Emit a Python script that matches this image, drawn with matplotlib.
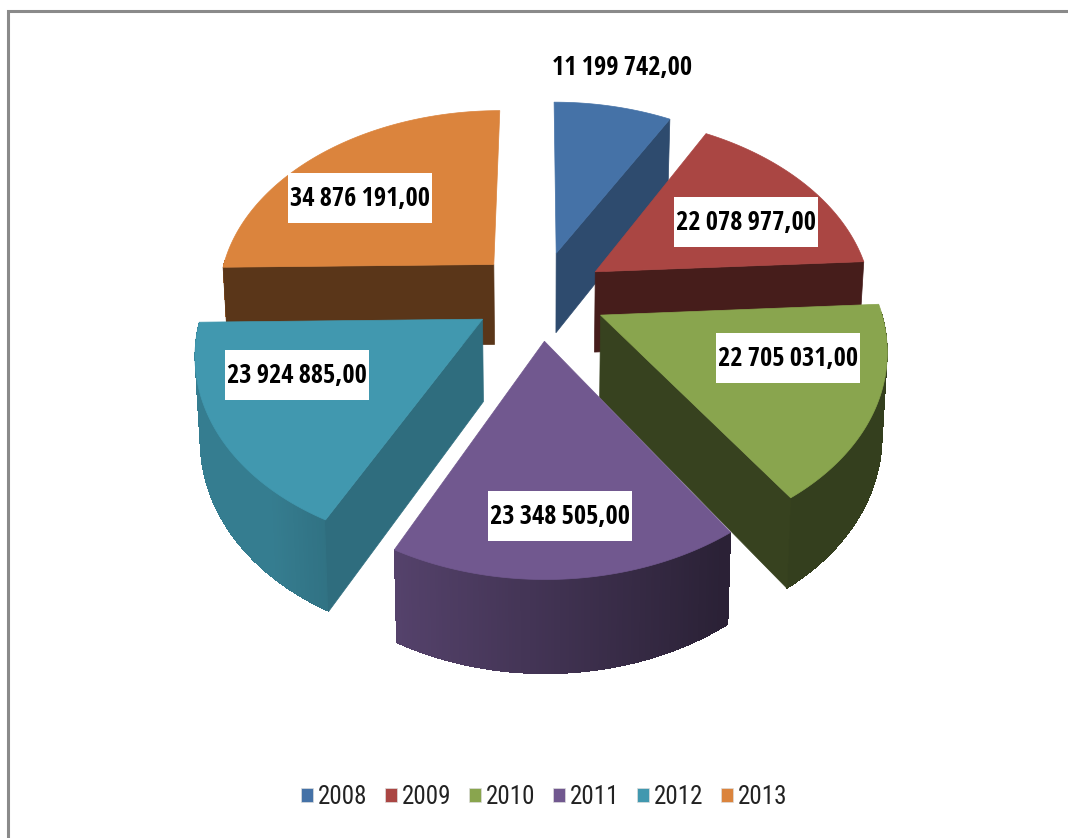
#!/usr/bin/env python3
"""Exploded 3D pie of yearly totals, 2008-2013."""

import numpy as np
import matplotlib
matplotlib.use("Agg")
import matplotlib.pyplot as plt
from matplotlib.collections import PolyCollection
from matplotlib.patches import Polygon, Rectangle, Patch

years = ["2008", "2009", "2010", "2011", "2012", "2013"]
values = [11199742, 22078977, 22705031, 23348505, 23924885, 34876191]

colors = ["#4572A7", "#AA4643", "#89A54E", "#71588F", "#4198AF", "#DB843D"]
# how dark the cut faces are, relative to the top colour
face_shade = [0.66, 0.41, 0.40, 0.55, 0.72, 0.41]
# back to front
draw_order = [0, 5, 1, 4, 2, 3]
# label box centres, pixels
label_x = [622, 746, 788, 560, 297, 360]
label_y = [68, 222, 358, 516, 375, 198]

plt.rcParams["font.family"] = ["Roboto Condensed", "DejaVu Sans"]

# projection of the pie plane to pixels
CX, CY = 540, 295
RX, RY = 277, 186
PERSP = 0.153
EXPLODE = 0.24


def project(x, y):
    w = 1 + PERSP * y
    return CX + RX * x / w, CY - RY * y / w


def drop(px, py):
    # same point on the underside of the pie
    return CX + (px - CX) * 0.985, py + 80 + (py - 265) * 0.045


def shaded(color, f):
    rgb = np.array(matplotlib.colors.to_rgb(color))
    return tuple(rgb * f)


fig = plt.figure(figsize=(10.68, 8.38), dpi=100)
ax = fig.add_axes([0, 0, 1, 1])
ax.set_xlim(0, 1068)
ax.set_ylim(838, 0)
ax.axis("off")

ax.plot([7.5, 7.5, 1068], [838, 11.5, 11.5], color="#8a8a8a", lw=2.2,
        solid_joinstyle="miter")

fractions = np.array(values) / sum(values)
ends = np.cumsum(fractions) * 2 * np.pi
starts = ends - fractions * 2 * np.pi
mids = (starts + ends) / 2

for i in draw_order:
    tx = EXPLODE * np.sin(mids[i])
    ty = EXPLODE * np.cos(mids[i])
    theta = np.linspace(starts[i], ends[i], 120)
    arc = [project(tx + np.sin(t), ty + np.cos(t)) for t in theta]
    tip = project(tx, ty)

    # outer wall, only the part turned towards the viewer
    quads, shades = [], []
    for k in range(len(arc) - 1):
        if np.cos(theta[k]) > 0.02:
            continue
        f = np.clip(0.58 - 0.38 * np.sin(theta[k]), 0.38, 0.82)
        shades.append(shaded(colors[i], f))
        quads.append([arc[k], arc[k + 1], drop(*arc[k + 1]), drop(*arc[k])])
    if quads:
        ax.add_collection(PolyCollection(quads, facecolors=shades, edgecolors="none",
                                         antialiaseds=False))

    # cut face on the side that can be seen
    edges = []
    if np.sin(ends[i]) > 0:
        edges.append(arc[-1])
    if np.sin(starts[i]) < 0:
        edges.append(arc[0])
    for edge in edges:
        c = shaded(colors[i], face_shade[i])
        ax.add_patch(Polygon([tip, edge, drop(*edge), drop(*tip)], closed=True,
                             fc=c, ec=c, lw=0.5))

    ax.add_patch(Polygon([tip] + arc, closed=True, fc=colors[i], ec=colors[i], lw=0.5))

# labels
for i in range(len(values)):
    lx, ly = label_x[i], label_y[i]
    ax.add_patch(Rectangle((lx - 72, ly - 25), 144, 50, fc="white", ec="none", zorder=5))
    txt = f"{values[i]:,}".replace(",", "\u2009") + ",00"
    ax.text(lx, ly, txt, ha="center", va="center", fontsize=19, fontweight="bold",
            family=["Open Sans Condensed", "Roboto Condensed", "DejaVu Sans"],
            color="black", zorder=6)

handles = [Patch(fc=c, ec="#dddddd", lw=0.5) for c in colors]
fig.legend(handles, years, ncols=6, loc="center", bbox_to_anchor=(544 / 1068, 1 - 797 / 838),
           frameon=False, fontsize=18, handlelength=0.48, handleheight=0.48,
           handletextpad=0.2, columnspacing=0.7, labelcolor="#222222")

fig.savefig("out.png", dpi=100)
